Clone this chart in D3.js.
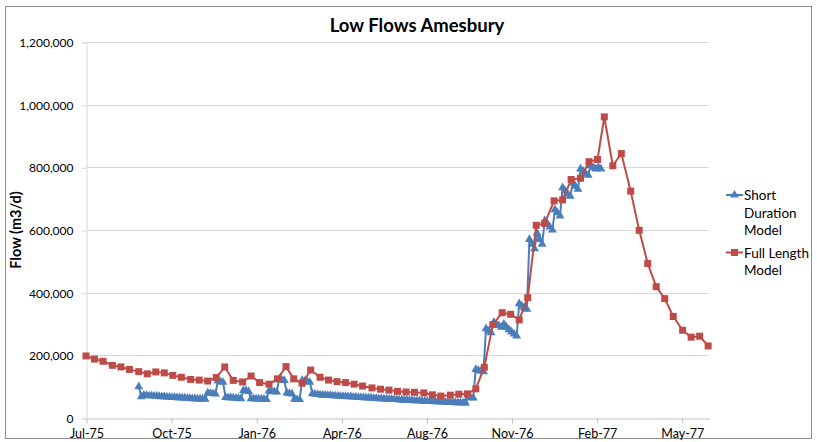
<!DOCTYPE html>
<html>
<head>
<meta charset="utf-8">
<script src="https://cdn.jsdelivr.net/npm/d3@7"></script>
<style>
  body { margin: 0; background: #fff; }
  text { font-family: Lato, "Open Sans", sans-serif; fill: #000; }
</style>
</head>
<body>
<div id="chart"></div>
<script>
// flows in thousand m3/d
const yTicks = [0, 200, 400, 600, 800, 1000, 1200];
const xTickLabels = ["Jul-75", "Oct-75", "Jan-76", "Apr-76", "Aug-76", "Nov-76", "Feb-77", "May-77"];

// Full Length Model: one value per dekad (1st, 11th, 21st of each month) from 1 Jul 1975
const fullLengthFlow = [198, 188, 181, 168, 163, 155, 148, 141, 147, 144, 136, 130, 123, 121, 118, 129,
  163, 120, 115, 134, 113, 108, 125, 164, 125, 111, 153, 130, 121, 116, 113, 108, 102, 96, 92, 89,
  85, 83, 82, 80, 74, 70, 73, 76, 77, 93, 162, 298, 336, 331, 313, 384, 615, 621, 693, 696, 761,
  765, 818, 825, 961, 805, 844, 724, 599, 493, 419, 381, 324, 280, 258, 261, 230];

// Short Duration Model: every 3 days from 1 Sep 1975
const shortDurationFlow = [100, 68, 73, 72, 71, 71, 70, 70, 69, 68, 68, 67, 67, 66, 66, 65, 65,
  64, 64, 63, 63, 62, 62, 61, 61, 60, 60, 80, 79, 78, 77, 118, 116, 114, 66, 65, 65, 64, 63, 63, 62,
  88, 87, 85, 62, 62, 61, 61, 60, 60, 59, 86, 85, 84, 83, 124, 122, 120, 80, 78, 77, 60, 59, 59,
  120, 118, 116, 114, 78, 76, 75, 74, 73, 73, 72, 72, 71, 71, 70, 70, 69, 69, 68, 68, 67, 67, 66, 66,
  65, 65, 64, 64, 63, 63, 62, 62, 61, 61, 60, 60, 59, 59, 58, 58, 57, 57, 56, 56, 55, 55, 55, 54,
  54, 53, 53, 53, 52, 52, 52, 51, 51, 50, 50, 50, 49, 49, 49, 48, 48, 66, 65, 64, 155, 152, 150, 148,
  285, 278, 272, 305, 300, 295, 290, 300, 290, 282, 275, 268, 262, 365, 358, 352, 347, 570, 555, 540,
  590, 570, 555, 630, 620, 610, 600, 665, 655, 645, 735, 725, 715, 708, 750, 740, 730, 795, 788, 780,
  775, 805, 800, 795, 800, 795];

const axisStart = new Date(1975, 6, 1);
const shortStart = new Date(1975, 8, 1);

const fullData = fullLengthFlow.map((v, i) => ({
  date: new Date(1975, 6 + Math.floor(i / 3), [1, 11, 21][i % 3]),
  flow: v,
}));
const shortData = shortDurationFlow.map((v, i) => ({
  date: d3.timeDay.offset(shortStart, 3 * i),
  flow: v,
}));

const W = 817, H = 442;
const plot = { left: 86, right: 709, top: 42, bottom: 418 };
const blue = "#4a7ebb", red = "#be4b48";

const svg = d3.select("#chart").append("svg").attr("width", W).attr("height", H);

// chart area border
svg.append("rect")
  .attr("x", 5.5).attr("y", 6.5).attr("width", 806).attr("height", 432)
  .attr("fill", "#fff").attr("stroke", "#8c8c8c").attr("stroke-width", 1);

const x = d3.scaleTime()
  .domain([axisStart, new Date(1977, 6, 2)])
  .range([plot.left, plot.right]);
const y = d3.scaleLinear()
  .domain([0, 1200])
  .range([plot.bottom, plot.top]);

// gridlines
svg.append("g")
  .selectAll("line")
  .data(yTicks.filter((d) => d > 0))
  .join("line")
  .attr("x1", plot.left).attr("x2", plot.right)
  .attr("y1", (d) => Math.round(y(d)) + 0.5).attr("y2", (d) => Math.round(y(d)) + 0.5)
  .attr("stroke", "#d9d9d9");

// y axis
const yAxis = d3.axisLeft(y)
  .tickValues(yTicks)
  .tickSize(5)
  .tickPadding(8)
  .tickFormat((d) => d3.format(",")(d * 1000));
const gy = svg.append("g")
  .attr("transform", `translate(${plot.left + 0.5},0.5)`)
  .call(yAxis);
gy.select(".domain").attr("stroke", "#d9d9d9");
gy.selectAll(".tick line").attr("stroke", "#d9d9d9");
gy.selectAll("text").style("font-size", "12px").attr("fill", "#000");

// x axis, labels every 100 days
const xTickDates = xTickLabels.map((_, k) => d3.timeDay.offset(axisStart, 100 * k));
const xAxis = d3.axisBottom(x)
  .tickValues(xTickDates)
  .tickSize(5)
  .tickPadding(6)
  .tickSizeOuter(0)
  .tickFormat((d, i) => xTickLabels[i]);
const gx = svg.append("g")
  .attr("transform", `translate(0.5,${plot.bottom + 0.5})`)
  .call(xAxis);
gx.select(".domain").attr("stroke", "#bfbfbf");
gx.selectAll(".tick line").attr("stroke", "#bfbfbf");
gx.selectAll("text").style("font-size", "12.5px").attr("fill", "#000");

// series
const line = d3.line().x((d) => x(d.date)).y((d) => y(d.flow));

function drawSeries(data, color, symbol, size) {
  svg.append("path")
    .datum(data)
    .attr("fill", "none")
    .attr("stroke", color)
    .attr("stroke-width", 2)
    .attr("stroke-linejoin", "round")
    .attr("d", line);
  svg.append("g")
    .selectAll("path")
    .data(data)
    .join("path")
    .attr("transform", (d) => `translate(${x(d.date)},${y(d.flow)})`)
    .attr("d", d3.symbol(symbol, size))
    .attr("fill", color);
}

drawSeries(shortData, blue, d3.symbolTriangle, 34);
drawSeries(fullData, red, d3.symbolSquare, 49);

// title
svg.append("text")
  .attr("x", 417).attr("y", 32)
  .attr("text-anchor", "middle")
  .style("font-size", "18.5px").style("font-weight", "bold")
  .text("Low Flows Amesbury");

// y axis title
svg.append("text")
  .attr("transform", `translate(21,${(plot.top + plot.bottom) / 2}) rotate(-90)`)
  .attr("text-anchor", "middle")
  .style("font-size", "14.5px").style("font-weight", "bold")
  .text("Flow (m3/d)");

// legend
const legend = [
  { lines: ["Short", "Duration", "Model"], color: blue, symbol: d3.symbolTriangle, size: 34, y: 195 },
  { lines: ["Full Length", "Model"], color: red, symbol: d3.symbolSquare, size: 49, y: 252.5 },
];
legend.forEach((item) => {
  const g = svg.append("g");
  g.append("line")
    .attr("x1", 726).attr("x2", 743)
    .attr("y1", item.y).attr("y2", item.y)
    .attr("stroke", item.color).attr("stroke-width", 2);
  g.append("path")
    .attr("transform", `translate(734.5,${item.y})`)
    .attr("d", d3.symbol(item.symbol, item.size))
    .attr("fill", item.color);
  g.append("text")
    .attr("x", 744).attr("y", item.y + 5)
    .style("font-size", "13.5px")
    .selectAll("tspan")
    .data(item.lines)
    .join("tspan")
    .attr("x", 744)
    .attr("dy", (d, i) => (i === 0 ? 0 : 17.5))
    .text((d) => d);
});
</script>
</body>
</html>
